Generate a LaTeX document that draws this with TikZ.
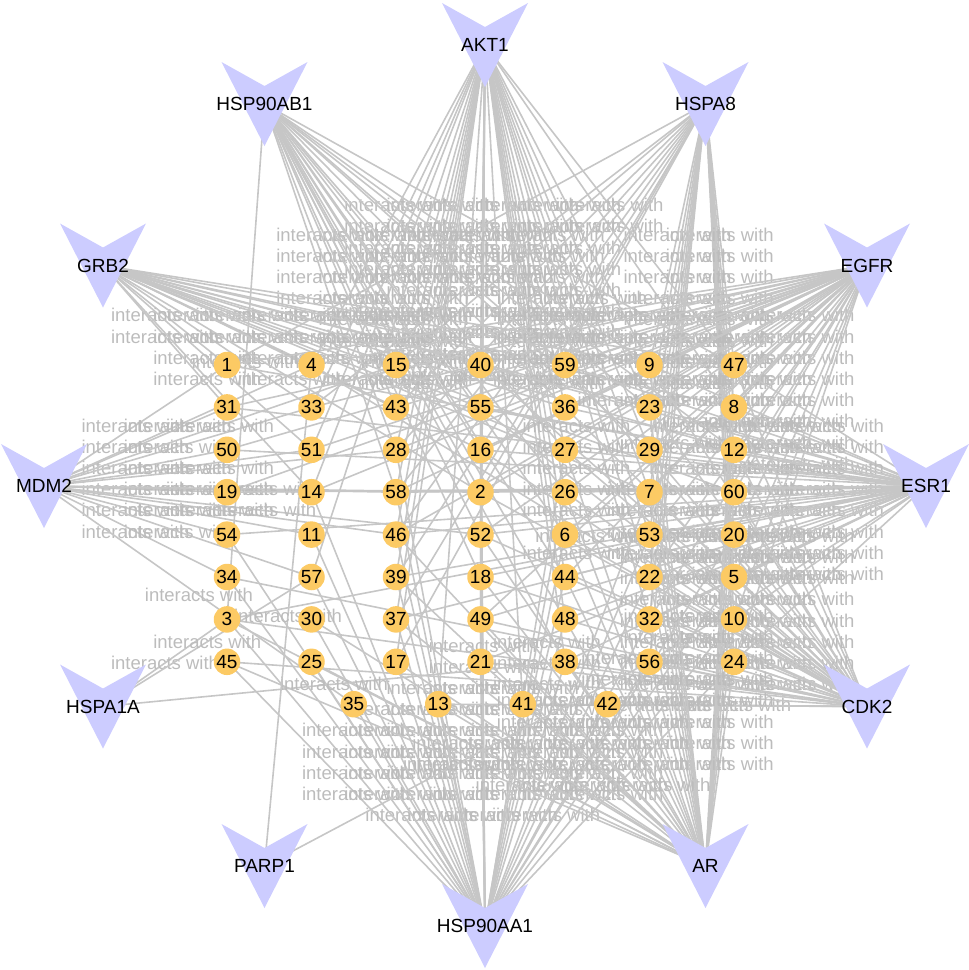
\documentclass[tikz,border=0pt]{standalone}
\usepackage{fontspec}
\setmainfont{Liberation Sans}
\pgfdeclarelayer{edgelayer}
\pgfsetlayers{edgelayer,main}
\definecolor{hubc}{RGB}{204,204,255}
\definecolor{cmpc}{RGB}{252,202,100}
\definecolor{edgec}{RGB}{198,198,198}
\definecolor{labc}{RGB}{188,188,188}
\tikzset{
  cmp/.style={circle, fill=cmpc, minimum size=26.5pt, inner sep=0pt, text=black, font=\fontsize{19}{19}\selectfont},
  hublabel/.style={inner sep=0pt, text=black, font=\fontsize{19}{19}\selectfont},
  lnk/.style={draw=edgec, line width=1.6pt},
  elab/.style={text=labc, inner sep=0pt, font=\fontsize{18.5}{19}\selectfont},
}
\newcommand\hubnode[4]{%
  \fill[hubc] (#2-43,#3-42) -- (#2,#3-18) -- (#2+43,#3-42) -- (#2,#3+42) -- cycle;
  \node[hublabel] (#1) at (#2,#3) {#4};}
\newcommand\hubedges[2]{%
  \foreach \c in {#2} {\draw[lnk] (#1.center) -- (c\c.center) node[midway,elab] {interacts with};}}
\begin{document}
\begin{tikzpicture}[x=1pt,y=-1pt]
\useasboundingbox (0,0) rectangle (969,970);
% hubs
\hubnode{AKT1}{485}{45}{AKT1}
\hubnode{HSPA8}{705.5}{104}{HSPA8}
\hubnode{EGFR}{867}{265.5}{EGFR}
\hubnode{ESR1}{926}{486}{ESR1}
\hubnode{CDK2}{867}{706.5}{CDK2}
\hubnode{AR}{705.5}{866}{AR}
\hubnode{HSPAAA}{485}{926}{HSP90AA1}
\hubnode{PARP1}{264.5}{866}{PARP1}
\hubnode{HSPAIA}{103}{706.5}{HSPA1A}
\hubnode{MDM2}{44}{486}{MDM2}
\hubnode{GRB2}{103}{265.5}{GRB2}
\hubnode{HSPAB}{264.5}{104}{HSP90AB1}
% compounds
\foreach \n/\i/\j in {
  1/0/0, 4/1/0, 15/2/0, 40/3/0, 59/4/0, 9/5/0, 47/6/0,
  31/0/1, 33/1/1, 43/2/1, 55/3/1, 36/4/1, 23/5/1, 8/6/1,
  50/0/2, 51/1/2, 28/2/2, 16/3/2, 27/4/2, 29/5/2, 12/6/2,
  19/0/3, 14/1/3, 58/2/3, 2/3/3, 26/4/3, 7/5/3, 60/6/3,
  54/0/4, 11/1/4, 46/2/4, 52/3/4, 6/4/4, 53/5/4, 20/6/4,
  34/0/5, 57/1/5, 39/2/5, 18/3/5, 44/4/5, 22/5/5, 5/6/5,
  3/0/6, 30/1/6, 37/2/6, 49/3/6, 48/4/6, 32/5/6, 10/6/6,
  45/0/7, 25/1/7, 17/2/7, 21/3/7, 38/4/7, 56/5/7, 24/6/7,
  35/1.5/8, 13/2.5/8, 41/3.5/8, 42/4.5/8}
  \node[cmp] (c\n) at ({227+84.5*\i},{365+42.4*\j}) {\n};
% edges
\begin{pgfonlayer}{edgelayer}
\hubedges{AKT1}{4,15,40,59,9,33,43,55,36,23,51,28,16,27,29,14,58,2,26,7,46,52,6,53,57,39,18,44,22,37,49,48,32,17,21,38,13,41,47,8}
\hubedges{HSPAAA}{45,25,17,21,38,56,24,35,13,41,42,3,30,37,49,48,32,10,34,57,39,18,44,22,5,54,11,46,52,6,53,20,14,58,2,26,7,16,40,55,28,27}
\hubedges{HSPA8}{47,8,12,60,20,5,10,24,9,23,29,7,53,22,32,56,15,43,28,46,39,37,17,58,2,1,33}
\hubedges{HSPAB}{3,15,40,59,9,43,55,36,23,28,16,27,29,58,2,26,52,6,44,18,48,38,47,12}
\hubedges{GRB2}{1,4,15,40,59,9,47,33,43,55,36,23,8,51,16,27,12,2,7,60,31,14}
\hubedges{EGFR}{1,4,15,40,59,9,47,31,33,43,55,36,23,8,50,51,28,16,27,29,12,14,58,2,26,7,60,46,52,6,53,20,44,22,5,49,32,10,24,19}
\hubedges{MDM2}{1,31,50,19,54,34,4,33,51,14,11,57,28,58,46,2,52,35,15}
\hubedges{ESR1}{9,47,23,8,29,12,7,60,53,20,22,5,32,10,56,24,36,27,26,6,44,48,38,59,55,16,2,52,18,49,21,40,58,46,39,37,1,31,50,19,54,3}
\hubedges{CDK2}{47,8,12,60,20,5,10,24,9,23,29,7,53,22,32,56,59,36,27,26,6,44,48,38,42,41,40,55,16,2,52,18,49,21,13,3,45,34,4}
\hubedges{AR}{24,10,5,20,60,12,8,47,56,32,22,53,7,29,23,38,48,44,6,26,27,42,41,21,49,18,52,13,35,17,37,39,46,25,30,45,3,9}
\hubedges{HSPAIA}{3,57,38}
\hubedges{PARP1}{4,56}
\end{pgfonlayer}
\end{tikzpicture}
\end{document}
